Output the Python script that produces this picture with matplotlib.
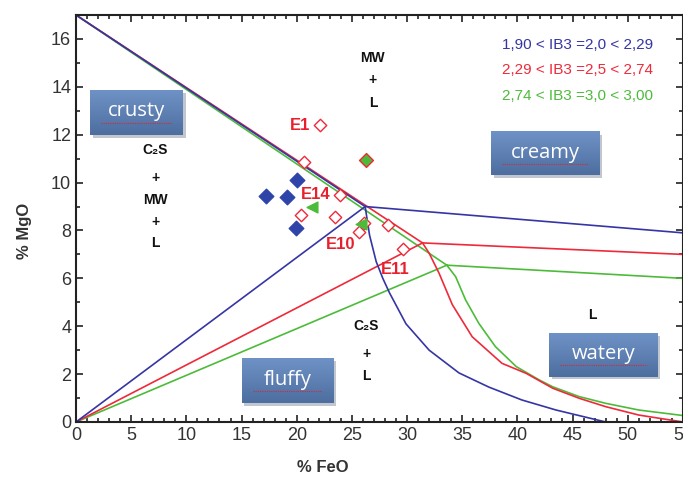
import matplotlib
matplotlib.use("Agg")
import matplotlib.pyplot as plt
from matplotlib.ticker import MultipleLocator
import numpy as np

# line colours
BLUE = "#3535a5"
RED = "#ee2a3a"
GREEN = "#4dbb3a"

# junction points (FeO, MgO) for each IB3 range
junctions = {"blue": (26.2, 9.0), "red": (31.4, 7.48), "green": (33.6, 6.55)}
right_end_mgo = {"blue": 7.9, "red": 7.0, "green": 6.0}

# descending liquidus curves
blue_feo = [26.2, 26.6, 27.2, 27.8, 28.4, 29.9, 32.0, 34.7, 37.4, 40.4, 43.5, 48.0]
blue_mgo = [9.0, 7.8, 6.7, 6.0, 5.4, 4.1, 3.0, 2.05, 1.46, 0.92, 0.5, 0.0]
red_feo = [31.4, 32.0, 32.9, 34.1, 35.9, 38.6, 40.8, 43.2, 45.6, 48.0, 51.0, 55.0]
red_mgo = [7.48, 7.05, 6.21, 4.9, 3.56, 2.45, 2.03, 1.41, 0.99, 0.64, 0.29, 0.0]
green_feo = [33.6, 34.4, 35.3, 36.5, 38.0, 39.9, 42.0, 43.2, 45.6, 48.0, 51.0, 55.0]
green_mgo = [6.55, 6.07, 5.10, 4.12, 3.15, 2.31, 1.75, 1.47, 1.06, 0.78, 0.50, 0.27]

# slag samples
blue_pts_feo = [20.0, 17.2, 19.1, 19.9]
blue_pts_mgo = [10.1, 9.44, 9.41, 8.09]
red_pts_feo = [22.1, 20.7, 23.9, 20.4, 23.5, 26.1, 25.6, 28.3, 29.6]
red_pts_mgo = [12.4, 10.87, 9.48, 8.65, 8.58, 8.33, 7.95, 8.23, 7.21]
green_pts_feo = [21.4, 25.8]
green_pts_mgo = [8.97, 8.27]
green_dia_feo = [26.3]
green_dia_mgo = [10.94]

sample_labels = ["E1", "E14", "E10", "E11"]
sample_lab_feo = [20.3, 21.7, 24.0, 28.9]
sample_lab_mgo = [12.4, 9.5, 7.43, 6.38]

# regions (name, x0, x1, y0, y1)
box_names = ["crusty", "creamy", "fluffy", "watery"]
box_x0 = [1.3, 37.6, 15.0, 42.9]
box_x1 = [9.7, 47.4, 23.3, 52.7]
box_y0 = [12.0, 10.3, 0.8, 1.9]
box_y1 = [13.85, 12.1, 2.65, 3.7]

legend_lines = ["1,90 < IB3 =2,0 < 2,29", "2,29 < IB3 =2,5 < 2,74", "2,74 < IB3 =3,0 < 3,00"]

fig = plt.figure(figsize=(6.83, 4.78), dpi=100)
ax = fig.add_axes([76 / 683, 56 / 478, 607 / 683, 407 / 478])

colors = {"blue": BLUE, "red": RED, "green": GREEN}
for c in ["green", "red", "blue"]:
    jx, jy = junctions[c]
    ax.plot([0, jx], [17, jy], color=colors[c], lw=1.2)
    ax.plot([0, jx], [0, jy], color=colors[c], lw=1.2)
    ax.plot([jx, 55], [jy, right_end_mgo[c]], color=colors[c], lw=1.2)
ax.plot(green_feo, green_mgo, color=GREEN, lw=1.2)
ax.plot(red_feo, red_mgo, color=RED, lw=1.2)
ax.plot(blue_feo, blue_mgo, color=BLUE, lw=1.2)

ax.scatter(blue_pts_feo, blue_pts_mgo, marker="D", s=55, color="#2f44a8", zorder=5)
ax.scatter(red_pts_feo, red_pts_mgo, marker="D", s=40, facecolor="white",
           edgecolor=RED, linewidth=1, zorder=6)
ax.scatter(green_dia_feo, green_dia_mgo, marker="D", s=50, facecolor=GREEN,
           edgecolor=RED, linewidth=1, zorder=6)
ax.scatter(green_pts_feo, green_pts_mgo, marker="<", s=60, color=GREEN, zorder=7)

for lab, x, y in zip(sample_labels, sample_lab_feo, sample_lab_mgo):
    ax.text(x, y, lab, color="#e8202e", fontsize=12, fontweight="bold",
            family="Liberation Sans", ha="center", va="center", zorder=8)

# phase field labels
fam = ["Liberation Sans", "DejaVu Sans"]
def stack(x, ys, words):
    for y, w in zip(ys, words):
        ax.text(x, y, w, fontsize=10, fontweight="bold", family=fam,
                ha="center", va="center", color="#111111")

stack(26.9, [15.19, 14.28, 13.31], ["MW", "+", "L"])
stack(7.2, [11.36, 10.18, 9.27, 8.37, 7.48], ["C\u2082S", "+", "MW", "+", "L"])
stack(26.3, [4.01, 2.83, 1.92], ["C\u2082S", "+", "L"])
stack(46.8, [4.47], ["L"])

# blue boxes
grad = np.linspace(0, 1, 50).reshape(-1, 1)
cmap = matplotlib.colors.LinearSegmentedColormap.from_list("b", ["#6f92c6", "#4d6e9f"])
for name, x0, x1, y0, y1 in zip(box_names, box_x0, box_x1, box_y0, box_y1):
    ax.add_patch(plt.Rectangle((x0 + 0.25, y0 - 0.12), x1 - x0, y1 - y0,
                               color="#9aa3b0", alpha=0.6, zorder=3, lw=0))
    ax.imshow(grad, extent=[x0, x1, y0, y1], cmap=cmap, aspect="auto",
              zorder=4, origin="upper")
    ax.text((x0 + x1) / 2, (y0 + y1) / 2 + 0.05, name, color="white", fontsize=14.5,
            family="Open Sans", ha="center", va="center", zorder=5)
    ax.plot([x0 + 1.0, x1 - 1.0], [(y0 + y1) / 2 - 0.42] * 2, color="#d8283a",
            lw=0.8, ls=(0, (1, 1)), zorder=5)
ax.set_xlim(0, 55)
ax.set_ylim(0, 17)

legend_colors = [BLUE, RED, GREEN]
legend_y = [15.75, 14.7, 13.6]
for t, c, y in zip(legend_lines, legend_colors, legend_y):
    ax.text(52.3, y, t, color=c, fontsize=11, family="Liberation Sans",
            ha="right", va="center")

ax.xaxis.set_major_locator(MultipleLocator(5))
ax.xaxis.set_minor_locator(MultipleLocator(1))
ax.yaxis.set_major_locator(MultipleLocator(2))
ax.yaxis.set_minor_locator(MultipleLocator(1))
ax.tick_params(which="both", direction="in", top=True, right=True, width=1.2, color="#222222")
ax.tick_params(which="major", length=5, labelsize=13, labelcolor="#333333")
ax.tick_params(which="minor", length=3)
for lbl in ax.get_xticklabels() + ax.get_yticklabels():
    lbl.set_family("Liberation Sans")
for s in ax.spines.values():
    s.set_linewidth(1.5)
    s.set_color("#222222")

ax.set_xlabel("% FeO", fontsize=12, fontweight="bold", family="Liberation Sans", color="#333333")
ax.xaxis.set_label_coords((323 - 76) / 607, -0.094)
ax.set_ylabel("% MgO", fontsize=12, fontweight="bold", family="Liberation Sans", color="#333333")
ax.yaxis.set_label_coords(-0.072, 0.47)

fig.savefig("out.png", dpi=100)
